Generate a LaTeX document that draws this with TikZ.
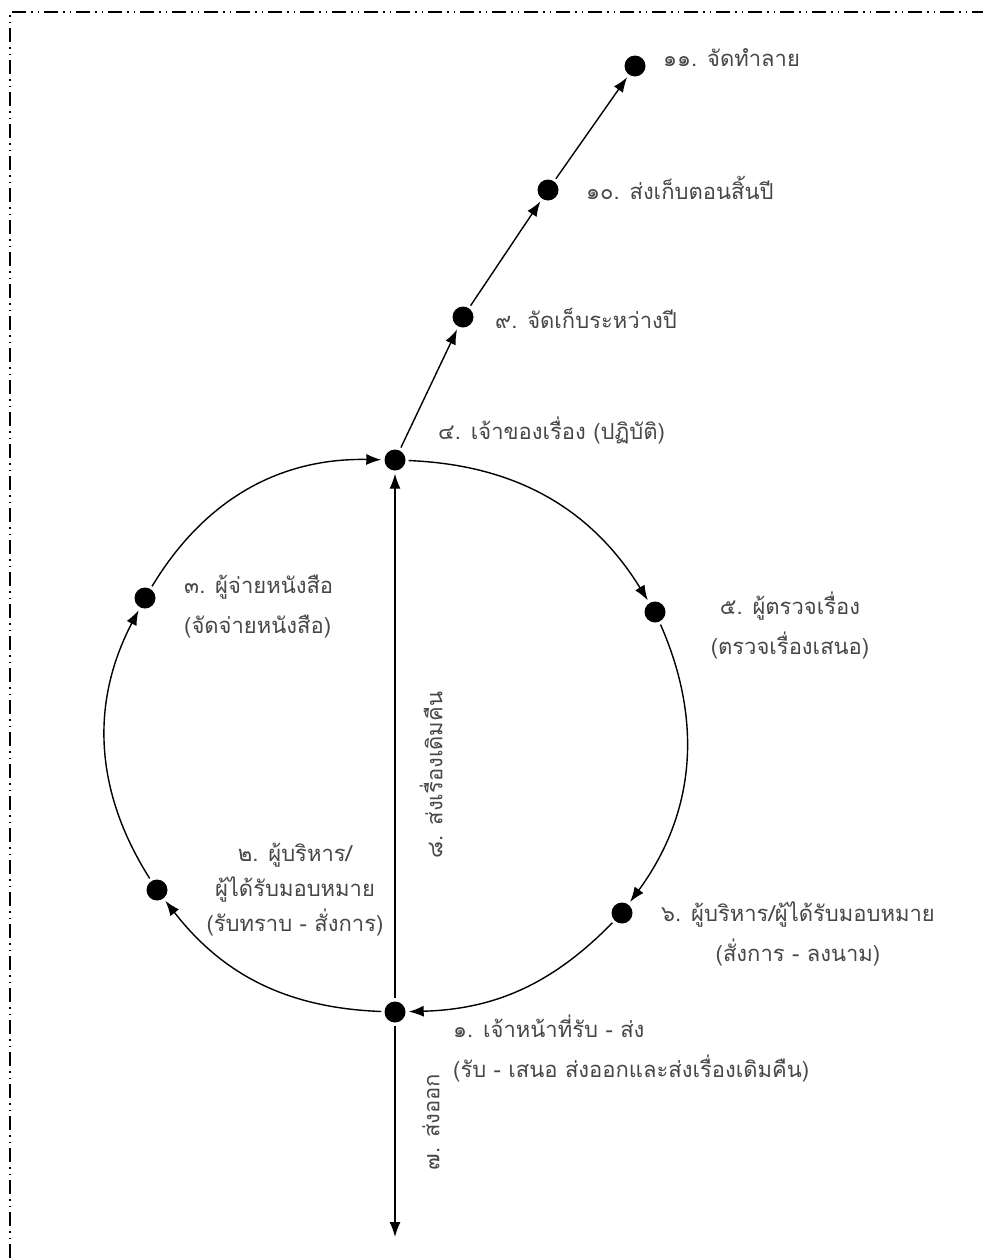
\documentclass[tikz,border=0pt]{standalone}
\usepackage{fontspec}
\newfontfamily\thaifont[Script=Thai]{Loma}
\usetikzlibrary{arrows.meta}

\begin{document}
\begin{tikzpicture}[
  x=1pt, y=1pt,
  dot/.style={circle, fill=black, inner sep=0pt, minimum size=21pt},
  lbl/.style={font=\thaifont\fontsize{22}{40}\selectfont, text=black!72, inner sep=0pt},
  flow/.style={-{Latex[length=15pt, width=11pt]}, line width=1.4pt, shorten <=3pt, shorten >=3pt},
]
  \useasboundingbox (0,0) rectangle (983,-1258);
  \draw[line width=1.2pt, dash pattern=on 14pt off 5pt on 1.5pt off 5pt on 1.5pt off 5pt]
    (10,-1258) -- (10,-12) -- (983,-12);

  % stations
  \node[dot] (recv)    at (395,-1012) {};
  \node[dot] (exec)    at (157,-890) {};
  \node[dot] (dist)    at (145,-598) {};
  \node[dot] (owner)   at (395,-460) {};
  \node[dot] (check)   at (655,-612) {};
  \node[dot] (sign)    at (622,-913) {};
  \node[dot] (store)   at (463,-317) {};
  \node[dot] (yearend) at (548,-190) {};
  \node[dot] (destroy) at (635,-66) {};
  \coordinate (out) at (395,-1240);

  % texts
  \node[lbl, anchor=west] (tdestroy) at (663,-58) {๑๑. จัดทำลาย};
  \node[lbl, anchor=west] (tyearend) at (586,-188) {๑๐. ส่งเก็บตอนสิ้นปี};
  \node[lbl, anchor=west] (tstore) at (495,-318) {๙. จัดเก็บระหว่างปี};
  \node[lbl, anchor=west] (towner) at (438,-430) {๔. เจ้าของเรื่อง (ปฏิบัติ)};
  \node[lbl, anchor=west, align=left] (tdist) at (184,-607)
    {๓. ผู้จ่ายหนังสือ\\(จัดจ่ายหนังสือ)};
  \node[lbl, align=center] (tcheck) at (790,-625)
    {๕. ผู้ตรวจเรื่อง\\(ตรวจเรื่องเสนอ)};
  \node[lbl, align=center, font=\thaifont\fontsize{22}{35}\selectfont] (texec) at (295,-890)
    {๒. ผู้บริหาร/\\ผู้ได้รับมอบหมาย\\(รับทราบ - สั่งการ)};
  \node[lbl, align=center] (tsign) at (798,-934)
    {๖. ผู้บริหาร/ผู้ได้รับมอบหมาย\\(สั่งการ - ลงนาม)};
  \node[lbl, anchor=west, align=left] (trecv) at (453,-1048)
    {๑. เจ้าหน้าที่รับ - ส่ง\\(รับ - เสนอ ส่งออกและส่งเรื่องเดิมคืน)};
  \node[lbl, rotate=90] (treturn) at (431,-775) {๘. ส่งเรื่องเดิมคืน};
  \node[lbl, rotate=90] (tout) at (431,-1122) {๗. ส่งออก};

  % flow round the cycle
  \draw[flow] (recv) to[bend left=25] (exec);
  \draw[flow] (exec) to[bend left=30] (dist);
  \draw[flow] (dist) to[bend left=30] (owner);
  \draw[flow] (owner) to[bend left=28] (check);
  \draw[flow] (check) to[bend left=30] (sign);
  \draw[flow] (sign) to[bend left=22] (recv);
  \draw[flow] (recv) -- (owner);
  \draw[flow] (recv) -- (out);
  \draw[flow] (owner) -- (store);
  \draw[flow] (store) -- (yearend);
  \draw[flow] (yearend) -- (destroy);
\end{tikzpicture}
\end{document}
